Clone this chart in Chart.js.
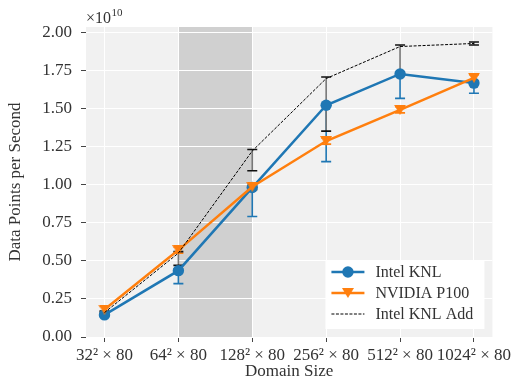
<!DOCTYPE html>
<html><head><meta charset="utf-8">
<script src="https://cdn.jsdelivr.net/npm/chart.js@4.4.0/dist/chart.umd.min.js"></script>
<style>html,body{margin:0;padding:0;background:#fff}</style>
</head><body>
<canvas id="c" width="515" height="388" style="width:515px;height:388px;display:block"></canvas>
<script>
// ---- data (values in units of 1e10 data points per second) ----
const categories = ['32² × 80', '64² × 80', '128² × 80', '256² × 80', '512² × 80', '1024² × 80'];
const yTicks = [0, 0.25, 0.5, 0.75, 1.0, 1.25, 1.5, 1.75, 2.0];
const knl = [0.145, 0.435, 0.98, 1.52, 1.725, 1.665];
const knlErrLo = [0.01, 0.085, 0.19, 0.37, 0.16, 0.066];
const knlErrHi = [0.01, 0.01, 0.01, 0.01, 0.01, 0.01];
const p100 = [0.18, 0.57, 0.985, 1.285, 1.49, 1.70];
const p100ErrLo = [0.02, 0.02, 0.02, 0.02, 0.02, 0.02];
const p100ErrHi = [0.02, 0.02, 0.02, 0.02, 0.02, 0.02];
const knlAdd = [0.16, 0.55, 1.22, 1.695, 1.905, 1.925];
const knlAddErrLo = [0.01, 0.08, 0.13, 0.345, 0.19, 0.01];
const knlAddErrHi = [0.01, 0.01, 0.01, 0.01, 0.01, 0.01];
const shadeFrom = 1, shadeTo = 2;

const BLUE = '#1f77b4', ORANGE = '#ff7f0e';
const FONT = '"Liberation Serif", "Times New Roman", serif';
const TXT = '#333';

// down-pointing triangle marker
function triMarker(w, h, color) {
  const cv = document.createElement('canvas');
  cv.width = w; cv.height = h;
  const g = cv.getContext('2d');
  g.fillStyle = color;
  g.beginPath(); g.moveTo(0, 0); g.lineTo(w, 0); g.lineTo(w / 2, h); g.closePath(); g.fill();
  return cv;
}
const tri = triMarker(12, 10, ORANGE);

const pts = arr => arr.map((v, i) => ({x: i, y: v}));

const errSeries = [
  {vals: knl, lo: knlErrLo, hi: knlErrHi, line: BLUE, cap: BLUE},
  {vals: p100, lo: p100ErrLo, hi: p100ErrHi, line: ORANGE, cap: ORANGE},
  {vals: knlAdd, lo: knlAddErrLo, hi: knlAddErrHi, line: '#777', cap: '#111'}
];

const bgPlugin = {
  id: 'bg',
  beforeDraw(chart) {
    const {ctx, chartArea: ca, scales} = chart;
    ctx.save();
    ctx.fillStyle = '#fff';
    ctx.fillRect(0, 0, chart.width, chart.height);
    ctx.fillStyle = '#f1f1f1';
    ctx.fillRect(ca.left, ca.top, ca.right - ca.left, ca.bottom - ca.top);
    const x1 = scales.x.getPixelForValue(shadeFrom), x2 = scales.x.getPixelForValue(shadeTo);
    ctx.fillStyle = '#d0d0d0';
    ctx.fillRect(x1, ca.top, x2 - x1, ca.bottom - ca.top);
    ctx.restore();
  }
};

const errPlugin = {
  id: 'err',
  beforeDatasetsDraw(chart) {
    const {ctx, scales} = chart;
    ctx.save();
    errSeries.forEach(s => {
      s.vals.forEach((v, i) => {
        const x = scales.x.getPixelForValue(i);
        const yl = scales.y.getPixelForValue(v - s.lo[i]);
        const yh = scales.y.getPixelForValue(v + s.hi[i]);
        ctx.strokeStyle = s.line; ctx.lineWidth = 1.6;
        ctx.beginPath(); ctx.moveTo(x, yl); ctx.lineTo(x, yh); ctx.stroke();
        ctx.strokeStyle = s.cap;
        ctx.beginPath();
        ctx.moveTo(x - 5, yl); ctx.lineTo(x + 5, yl);
        ctx.moveTo(x - 5, yh); ctx.lineTo(x + 5, yh);
        ctx.stroke();
      });
    });
    ctx.restore();
  }
};

const overlayPlugin = {
  id: 'overlay',
  afterDraw(chart) {
    const {ctx, chartArea: ca} = chart;
    ctx.save();
    // exponent label
    ctx.fillStyle = TXT;
    ctx.textBaseline = 'alphabetic';
    ctx.textAlign = 'left';
    ctx.font = '16px ' + FONT;
    ctx.fillText('×10', ca.left, 23);
    const w = ctx.measureText('×10').width;
    ctx.font = '11px ' + FONT;
    ctx.fillText('10', ca.left + w + 0.5, 16);
    // legend
    const lw = 159, lh = 69;
    const lx = ca.right - 8 - lw, ly = ca.bottom - 8 - lh;
    ctx.fillStyle = '#fff';
    ctx.fillRect(lx, ly, lw, lh);
    const rows = [
      {label: 'Intel KNL', color: BLUE, width: 2.5, dash: [], marker: 'circle'},
      {label: 'NVIDIA P100', color: ORANGE, width: 2.5, dash: [], marker: 'tri'},
      {label: 'Intel KNL Add', color: '#000', width: 1, dash: [3, 1.5], marker: null}
    ];
    rows.forEach((r, k) => {
      const y = ly + 12 + k * 21;
      const x0 = lx + 6, x1 = lx + 39;
      ctx.strokeStyle = r.color; ctx.lineWidth = r.width; ctx.setLineDash(r.dash);
      ctx.beginPath(); ctx.moveTo(x0, y); ctx.lineTo(x1, y); ctx.stroke();
      ctx.setLineDash([]);
      const cx = (x0 + x1) / 2;
      if (r.marker === 'circle') {
        ctx.fillStyle = r.color;
        ctx.beginPath(); ctx.arc(cx, y, 5.7, 0, Math.PI * 2); ctx.fill();
      } else if (r.marker === 'tri') {
        ctx.drawImage(tri, cx - 6, y - 5);
      }
      ctx.fillStyle = TXT;
      ctx.font = '16px ' + FONT;
      ctx.textBaseline = 'middle';
      ctx.fillText(r.label, lx + 50, y + 1);
    });
    ctx.restore();
  }
};

new Chart(document.getElementById('c'), {
  type: 'line',
  data: {
    datasets: [
      {label: 'Intel KNL', data: pts(knl), borderColor: BLUE, backgroundColor: BLUE, borderWidth: 2.5,
       pointStyle: 'circle', pointRadius: 5.7, pointBorderWidth: 0, pointBackgroundColor: BLUE, tension: 0, order: 3},
      {label: 'NVIDIA P100', data: pts(p100), borderColor: ORANGE, backgroundColor: ORANGE, borderWidth: 2.5,
       pointStyle: tri, pointRadius: 6, tension: 0, order: 2},
      {label: 'Intel KNL Add', data: pts(knlAdd), borderColor: '#000', borderWidth: 1, borderDash: [3, 1.5],
       pointRadius: 0, tension: 0, order: 1}
    ]
  },
  options: {
    responsive: false,
    animation: false,
    devicePixelRatio: 1,
    layout: {padding: {top: 27, right: 21, left: 0, bottom: 0}},
    plugins: {legend: {display: false}, tooltip: {enabled: false}},
    scales: {
      x: {
        type: 'linear', min: -0.25, max: 5.25,
        afterBuildTicks: s => { s.ticks = categories.map((c, i) => ({value: i})); },
        afterFit: s => { s.height = 51; },
        ticks: {autoSkip: false, maxRotation: 0, padding: 3, color: TXT, font: {family: FONT, size: 17},
                callback: v => categories[Math.round(v)]},
        grid: {color: '#fff', lineWidth: 1, tickColor: '#444', tickLength: 5, tickWidth: 1},
        border: {display: false},
        title: {display: true, text: 'Domain Size', color: TXT, font: {family: FONT, size: 17}, padding: {top: 0, bottom: 6}}
      },
      y: {
        type: 'linear', min: 0, max: 2.033,
        afterBuildTicks: s => { s.ticks = yTicks.map(v => ({value: v})); },
        afterFit: s => { s.width = 86; },
        ticks: {padding: 9, color: TXT, font: {family: FONT, size: 17}, callback: v => Number(v).toFixed(2)},
        grid: {color: '#fff', lineWidth: 1, tickColor: '#444', tickLength: 5, tickWidth: 1},
        border: {display: false},
        title: {display: true, text: 'Data Points per Second', color: TXT, font: {family: FONT, size: 17}, padding: {top: 5, bottom: 0}}
      }
    }
  },
  plugins: [bgPlugin, errPlugin, overlayPlugin]
});
</script>
</body></html>
